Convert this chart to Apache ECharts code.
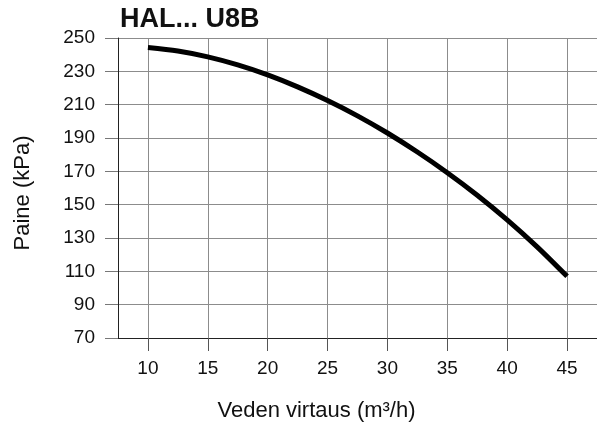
<!DOCTYPE html>
<html>
<head>
<meta charset="utf-8">
<script src="https://cdn.jsdelivr.net/npm/echarts@6/dist/echarts.min.js"></script>
<style>
  html, body { margin: 0; padding: 0; background: #fff; }
  #chart { width: 597px; height: 427px; }
</style>
</head>
<body>
<div id="chart"></div>
<script>
// flow (m3/h) and pressure (kPa)
var flow = [10, 12.5, 15, 17.5, 20, 22.5, 25, 27.5, 30, 32.5, 35, 37.5, 40, 42.5, 45]
var pressure = [244.3, 242.2, 238.7, 233.9, 227.9, 220.7, 212.5, 203.3, 193, 181.6, 169.2, 155.7, 140.9, 124.7, 107]
var xLabels = [10, 15, 20, 25, 30, 35, 40, 45]

var points = []
for (var i = 0; i < flow.length; i++) {
  points.push([flow[i], pressure[i]])
}

var font = 'Liberation Sans, Arial, sans-serif'
var myChart = echarts.init(document.getElementById('chart'))
var option = {
  animation: false,
  title: {
    text: 'HAL... U8B',
    left: 120,
    top: 6,
    padding: 0,
    textStyle: {
      color: '#111',
      fontSize: 27,
      fontWeight: 'bold',
      fontFamily: font
    }
  },
  grid: {
    left: 118,
    right: -6,
    top: 38,
    bottom: 88,
    containLabel: false
  },
  xAxis: {
    type: 'value',
    min: 7.5,
    max: 47.5,
    interval: 2.5,
    name: 'Veden virtaus (m³/h)',
    nameLocation: 'middle',
    nameGap: 62,
    nameTextStyle: {
      color: '#111',
      fontSize: 22,
      fontFamily: font,
      padding: [0, 82, 0, 0]
    },
    axisLine: { lineStyle: { color: '#222', width: 1 } },
    axisTick: {
      show: true,
      length: 13,
      customValues: xLabels,
      lineStyle: { color: '#555' }
    },
    axisLabel: {
      customValues: xLabels,
      margin: 21,
      color: '#111',
      fontSize: 19,
      fontFamily: font
    },
    splitLine: { show: true, lineStyle: { color: '#8c8c8c', width: 1 } }
  },
  yAxis: {
    type: 'value',
    min: 70,
    max: 250,
    interval: 20,
    name: 'Paine (kPa)',
    nameLocation: 'middle',
    nameGap: 84,
    nameTextStyle: {
      color: '#111',
      fontSize: 22,
      fontFamily: font,
      padding: [0, 10, 0, 0]
    },
    axisLine: { show: true, lineStyle: { color: '#222', width: 1 } },
    axisTick: { show: true, length: 13, lineStyle: { color: '#777' } },
    axisLabel: {
      margin: 23,
      color: '#111',
      fontSize: 19,
      fontFamily: font
    },
    splitLine: { show: true, lineStyle: { color: '#8c8c8c', width: 1 } }
  },
  series: [
    {
      type: 'line',
      data: points,
      smooth: 0.3,
      showSymbol: false,
      symbol: 'none',
      lineStyle: { color: '#000', width: 5 }
    }
  ]
}
myChart.setOption(option)
</script>
</body>
</html>
